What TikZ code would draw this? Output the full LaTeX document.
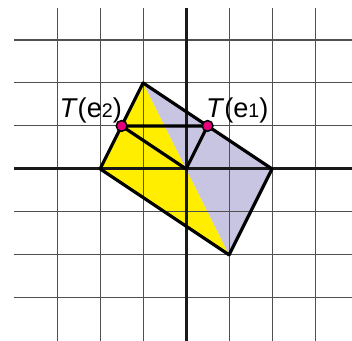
\documentclass[tikz,border=0pt]{standalone}
\usepackage{fontspec}
\setmainfont{Liberation Sans}
\usepackage{tikz}
\usetikzlibrary{positioning}
\definecolor{myyellow}{RGB}{255,238,0}
\definecolor{mylilac}{RGB}{199,197,226}
\definecolor{mymagenta}{RGB}{228,0,124}
\definecolor{mygrid}{RGB}{80,80,80}
\definecolor{mydark}{RGB}{25,25,25}
\tikzset{
  gridline/.style={color=mygrid, line width=0.7pt},
  axisline/.style={color=mydark, line width=1.9pt},
  edge/.style={color=black, line width=2.1pt, line join=round},
  imgdot/.style={circle, draw=black, fill=mymagenta, line width=1pt,
    minimum size=0.25cm, inner sep=0pt},
  imglabel/.style={font=\fontsize{18}{21}\selectfont, inner sep=0pt, anchor=base}
}
\newcommand{\subdig}[1]{{\fontsize{13}{13}\selectfont #1}}

\begin{document}
\begin{tikzpicture}
  \useasboundingbox (-4.33,-4.0) rectangle (3.86,3.93);
  \coordinate (O) at (0,0);
  \coordinate (top) at (-1,2);
  \coordinate (left) at (-2,0);
  \coordinate (right) at (2,0);
  \coordinate (bottom) at (1,-2);
  \coordinate (Te1) at (0.5,1);
  \coordinate (Te2) at (-1.5,1);
  % filled halves
  \fill[myyellow] (top) -- (left) -- (bottom) -- cycle;
  \fill[mylilac] (top) -- (right) -- (bottom) -- cycle;
  % grid and axes
  \foreach \k in {-3,...,3} {
    \draw[gridline] (-4,\k) -- (3.86,\k);
    \draw[gridline] (\k,3.74) -- (\k,-4);
  }
  \draw[axisline] (-4,0) -- (3.86,0);
  \draw[axisline] (0,3.74) -- (0,-4);
  % image of the squares
  \draw[edge] (top) -- (right) -- (bottom) -- (left) -- cycle;
  \draw[edge] (Te2) -- (Te1) -- (O) -- cycle;
  \node[imgdot] (dot1) at (Te1) {};
  \node[imgdot] (dot2) at (Te2) {};
  \node[imglabel] (lab1) at (1.19,1.19) {\textit{T}(e\subdig{1})};
  \node[imglabel] (lab2) at (-2.22,1.19) {\textit{T}(e\subdig{2})};
\end{tikzpicture}
\end{document}
